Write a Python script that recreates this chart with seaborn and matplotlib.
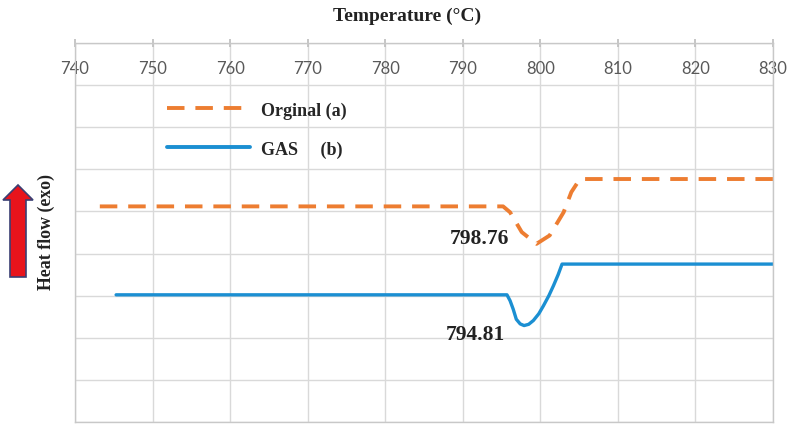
import numpy as np
import pandas as pd
import matplotlib
matplotlib.use("Agg")
import matplotlib.pyplot as plt
import seaborn as sns
from matplotlib.patches import Polygon

# ---- data ----
orig_temp = [743.2, 795.2, 796.1, 797.6, 799.5, 801.2, 803.0, 804.0, 805.1, 830.0]
orig_flow = [5.12, 5.12, 4.98, 4.51, 4.23, 4.43, 4.98, 5.46, 5.77, 5.77]
gas_temp = [745.3, 795.7, 796.1, 796.5, 796.9, 797.4, 797.9, 798.5, 799.1, 799.8,
            800.4, 801.1, 801.7, 802.3, 802.8, 830.0]
gas_flow = [3.02, 3.02, 2.88, 2.68, 2.44, 2.33, 2.29, 2.32, 2.41, 2.57,
            2.76, 3.00, 3.24, 3.50, 3.75, 3.75]
x_ticks = [740, 750, 760, 770, 780, 790, 800, 810, 820, 830]
series_names = ["Orginal (a)", "GAS     (b)"]
peak_labels = ["798.76", "794.81"]

ORANGE = "#ED7D31"
BLUE = "#1b8fd2"
GRID = "#d9d9d9"

sns.set_theme(style="whitegrid")
plt.rcParams["font.family"] = ["Liberation Serif", "DejaVu Serif"]

fig = plt.figure(figsize=(7.90, 4.27), dpi=100)
ax = fig.add_axes([75 / 790, 4 / 427, 698 / 790, 379 / 427])

df_o = pd.DataFrame({"T": orig_temp, "H": orig_flow})
df_g = pd.DataFrame({"T": gas_temp, "H": gas_flow})

sns.lineplot(data=df_o, x="T", y="H", ax=ax, color=ORANGE, linewidth=2.8,
             sort=False, estimator=None, label=series_names[0])
ax.lines[-1].set_dashes([4.5, 2.8])
sns.lineplot(data=df_g, x="T", y="H", ax=ax, color=BLUE, linewidth=2.4,
             sort=False, estimator=None, label=series_names[1])

ax.set_xlim(x_ticks[0], x_ticks[-1])
ax.set_ylim(0, 9)
ax.set_xticks(x_ticks)
ax.set_yticks(range(0, 10))
ax.set_yticklabels([])
ax.set_xlabel("")
ax.set_ylabel("")
ax.grid(True, color=GRID, linewidth=1.0)
for s in ax.spines.values():
    s.set_color("#c8c8c8")
    s.set_linewidth(1.0)
ax.set_facecolor("white")

ax.tick_params(axis="x", top=True, labeltop=True, bottom=False, labelbottom=False,
               direction="inout", length=6, color="#bfbfbf", pad=-27,
               labelcolor="#595959", labelsize=12)
for lab in ax.get_xticklabels():
    lab.set_family("Lato")
ax.tick_params(axis="y", left=False, length=0)

# peak annotations
min_o = int(np.argmin(orig_flow))
min_g = int(np.argmin(gas_flow))
ax.text(orig_temp[min_o] - 7.4, orig_flow[min_o] + 0.13, peak_labels[0],
        ha="center", va="center", fontsize=15.5, fontweight="bold", color="#222222")
ax.text(gas_temp[min_g] - 6.3, gas_flow[min_g] - 0.2, peak_labels[1],
        ha="center", va="center", fontsize=15.5, fontweight="bold", color="#222222")

# legend
leg = ax.legend(loc="upper left", bbox_to_anchor=(0.132, 0.846), frameon=False,
                handlelength=4.6, handletextpad=0.6, labelspacing=1.2,
                borderpad=0, borderaxespad=0,
                prop={"family": "Liberation Serif", "weight": "bold", "size": 13})
for line in leg.get_lines():
    line.set_linewidth(2.8)

# title and y label
fig.text(407 / 790, 1 - 16 / 427, "Temperature (°C)", ha="center", va="center",
         fontsize=14, fontweight="bold", color="#222222")
fig.text(46 / 790, 1 - 232 / 427, "Heat flow (exo)", ha="center", va="center",
         rotation=90, fontsize=12.8, fontweight="bold", color="#222222")

# red arrow (pixels -> inches)
arrow_px = [(18, 186), (3, 201), (10, 201), (10, 278), (26, 278), (26, 201), (33, 201)]
arrow_in = [(x / 100, (427 - y) / 100) for x, y in arrow_px]
fig.patches.append(Polygon(arrow_in, closed=True, transform=fig.dpi_scale_trans,
                           facecolor="#e8141c", edgecolor="#3b3f73", linewidth=1.2))

fig.savefig("out.png", dpi=100)
